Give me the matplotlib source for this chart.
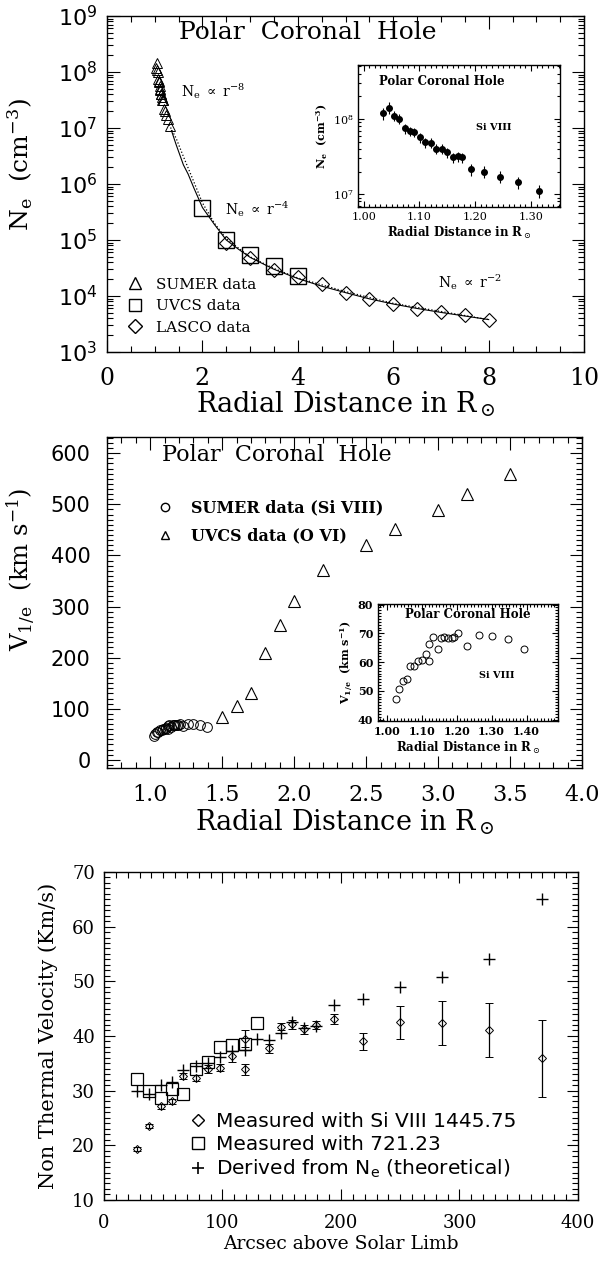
import matplotlib
matplotlib.use("Agg")
import matplotlib.pyplot as plt
from matplotlib.ticker import MultipleLocator, LogLocator, NullFormatter, FormatStrFormatter
from matplotlib.lines import Line2D

plt.rcParams['mathtext.fontset'] = 'dejavuserif'
SERIF = ['DejaVu Serif']
SANS = ['DejaVu Sans']

# ---- panel 1: electron density ----
sumer_r = [1.034, 1.046, 1.054, 1.064, 1.074, 1.083, 1.091, 1.101, 1.110, 1.120, 1.130,
           1.140, 1.150, 1.160, 1.169, 1.177, 1.192, 1.215, 1.245, 1.277, 1.315]
sumer_ne = [1.19e8, 1.42e8, 1.10e8, 1.00e8, 7.5e7, 6.9e7, 6.7e7, 5.7e7, 4.9e7, 4.8e7, 4.0e7,
            4.0e7, 3.6e7, 3.1e7, 3.2e7, 3.1e7, 2.15e7, 2.0e7, 1.7e7, 1.45e7, 1.1e7]
sumer_err = [0.18, 0.18, 0.15, 0.15, 0.15, 0.15, 0.15, 0.15, 0.15, 0.15, 0.15,
             0.15, 0.15, 0.15, 0.15, 0.15, 0.18, 0.18, 0.18, 0.18, 0.2]
uvcs_r = [2.0, 2.5, 3.0, 3.5, 4.0]
uvcs_ne = [3.8e5, 1.0e5, 5.5e4, 3.4e4, 2.3e4]
lasco_r = [2.5, 3.0, 3.5, 4.0, 4.5, 5.0, 5.5, 6.0, 6.5, 7.0, 7.5, 8.0]
lasco_ne = [9.0e4, 4.8e4, 2.9e4, 2.2e4, 1.66e4, 1.12e4, 8.7e3, 7.1e3, 5.8e3, 5.2e3, 4.6e3, 3.7e3]
fit_r = [1.35, 1.45, 1.6, 1.7, 1.82, 2.0, 2.25, 2.5, 2.75, 3.0, 3.5, 4.0, 4.5, 5.0,
         5.5, 6.0, 6.5, 7.0, 7.5, 8.0]
fit_ne = [9e6, 5e6, 2.2e6, 1.5e6, 8.5e5, 3.8e5, 1.9e5, 1.0e5, 6.9e4, 4.9e4, 3.0e4, 2.05e4,
          1.5e4, 1.15e4, 8.9e3, 7.2e3, 6.0e3, 5.1e3, 4.4e3, 3.8e3]
dot_r = [1.3, 1.45, 1.6, 1.8, 2.0, 2.25, 2.5, 3.0, 3.5, 4.0, 5.0, 6.0, 7.0, 8.0]
dot_ne = [1.15e7, 6.5e6, 3.1e6, 1.2e6, 4.6e5, 2.0e5, 1.05e5, 5.0e4, 3.1e4, 2.1e4, 1.2e4,
          7.4e3, 5.3e3, 3.8e3]

# ---- panel 2: outflow velocity ----
vsum_r = [1.026, 1.035, 1.046, 1.057, 1.067, 1.079, 1.090, 1.100, 1.111, 1.121, 1.121, 1.133,
          1.146, 1.155, 1.165, 1.174, 1.186, 1.193, 1.205, 1.229, 1.264, 1.300, 1.346, 1.393]
vsum_v = [47.3, 50.5, 53.5, 54.3, 58.7, 58.7, 60.4, 60.8, 62.7, 60.5, 66.4, 68.9,
          64.5, 68.3, 68.9, 68.3, 68.3, 68.9, 70.1, 65.7, 69.5, 69.2, 68.1, 64.5]
vuv_r = [1.5, 1.6, 1.7, 1.8, 1.9, 2.0, 2.2, 2.5, 2.7, 3.0, 3.2, 3.5]
vuv_v = [83, 105, 131, 209, 264, 310, 371, 420, 451, 489, 520, 559]

# ---- panel 3: non thermal velocity ----
si_x = [28, 38, 48, 57, 67, 78, 88, 98, 108, 119, 119, 139, 149, 159, 169, 179, 194,
        219, 250, 285, 325, 370]
si_v = [19.3, 23.5, 27.1, 28.0, 32.7, 32.3, 33.9, 34.2, 36.3, 33.9, 39.5, 37.7, 41.7, 42.1,
        41.2, 42.0, 43.1, 39.0, 42.5, 42.3, 41.1, 35.9]
si_err = [0.3, 0.4, 0.5, 0.5, 0.6, 0.5, 0.7, 0.7, 1.0, 1.0, 1.5, 0.8, 0.7, 0.8, 0.8, 0.7,
          1.0, 1.6, 3.0, 4.0, 5.0, 7.0]
o_x = [28, 38, 48, 57, 67, 78, 88, 98, 108, 119, 129]
o_v = [32.1, 29.9, 28.7, 30.3, 29.3, 33.9, 35.2, 37.9, 38.4, 38.5, 42.3]
th_x = [28, 38, 48, 57, 67, 78, 88, 98, 108, 119, 129, 139, 149, 159, 169, 179, 194,
        219, 250, 285, 325, 370]
th_v = [29.9, 29.3, 31.1, 31.5, 33.8, 34.5, 35.0, 36.2, 37.2, 37.5, 39.4, 39.2, 40.5, 42.5,
        41.5, 41.9, 45.7, 46.7, 48.9, 50.7, 54.0, 65.0]


def style(ax, major=8, minor=4):
    ax.tick_params(which='both', direction='in', top=True, right=True, width=0.8)
    ax.tick_params(which='major', length=major)
    ax.tick_params(which='minor', length=minor)
    for s in ax.spines.values():
        s.set_linewidth(1.0)


def fonts(labels, family, size, weight='normal'):
    for t in labels:
        t.set_family(family)
        t.set_fontsize(size)
        t.set_fontweight(weight)


fig = plt.figure(figsize=(5.98, 12.65), dpi=100)

# ================= top panel =================
ax1 = fig.add_axes([0.179, 0.7217, 0.7977, 0.2657])
ax1.set_yscale('log')
ax1.set_xlim(0, 10)
ax1.set_ylim(1e3, 1e9)
ax1.plot(fit_r, fit_ne, '-', color='k', lw=0.8)
ax1.plot(dot_r, dot_ne, ':', color='k', lw=0.9)
ax1.plot(sumer_r, sumer_ne, '^', ms=6.5, mfc='none', mec='k', mew=0.7, ls='none')
ax1.plot(uvcs_r, uvcs_ne, 's', ms=11, mfc='none', mec='k', mew=1.0, ls='none')
ax1.plot(lasco_r, lasco_ne, 'D', ms=7.5, mfc='none', mec='k', mew=0.8, ls='none')
ax1.xaxis.set_major_locator(MultipleLocator(2))
ax1.xaxis.set_minor_locator(MultipleLocator(0.5))
ax1.yaxis.set_major_locator(LogLocator(base=10, numticks=10))
ax1.yaxis.set_minor_locator(LogLocator(base=10, subs=range(2, 10), numticks=20))
ax1.yaxis.set_minor_formatter(NullFormatter())
style(ax1, 9, 4.5)
fonts(ax1.get_xticklabels(), SERIF, 17)
fonts(ax1.get_yticklabels(), SANS, 16)
ax1.tick_params(axis='x', pad=10.5)
ax1.tick_params(axis='y', pad=7)
ax1.set_xlabel(r'Radial Distance in R$_\odot$', family=SERIF, fontsize=19.5, labelpad=0)
ax1.set_ylabel(r'N$_{\mathdefault{e}}$  (cm$^{\mathdefault{-3}}$)', family=SERIF, fontsize=18)
ax1.yaxis.set_label_coords(-0.152, 0.557)
ax1.text(4.2, 10**8.7, 'Polar  Coronal  Hole', family=SERIF, fontsize=18, ha='center', va='center')
ax1.text(1.56, 10**7.66, r'N$_{\mathdefault{e}}$ $\propto$ r$^{\mathdefault{-8}}$', family=SERIF, fontsize=10, va='center')
ax1.text(2.47, 10**5.55, r'N$_{\mathdefault{e}}$ $\propto$ r$^{\mathdefault{-4}}$', family=SERIF, fontsize=10, va='center')
ax1.text(6.94, 10**4.24, r'N$_{\mathdefault{e}}$ $\propto$ r$^{\mathdefault{-2}}$', family=SERIF, fontsize=10, va='center')
h1 = [Line2D([], [], marker='^', ms=8, mfc='none', mec='k', ls='none'),
      Line2D([], [], marker='s', ms=9, mfc='none', mec='k', ls='none'),
      Line2D([], [], marker='D', ms=7, mfc='none', mec='k', ls='none')]
ax1.legend(h1, ['SUMER data', 'UVCS data', 'LASCO data'], loc='lower left',
           bbox_to_anchor=(0.0, 0.015), frameon=False, prop={'family': SERIF, 'size': 11},
           handletextpad=0.4, labelspacing=0.5, borderaxespad=0.4)

# top inset
ai1 = fig.add_axes([0.5987, 0.8364, 0.3378, 0.1123])
ai1.set_yscale('log')
ai1.set_xlim(0.99, 1.352)
ai1.set_ylim(10**6.83, 10**8.72)
ne_lo = [v * e for v, e in zip(sumer_ne, sumer_err)]
ai1.errorbar(sumer_r, sumer_ne, yerr=[ne_lo, ne_lo], fmt='o', ms=4, color='k',
             elinewidth=0.8, capsize=0)
ai1.set_xticks([1.0, 1.1, 1.2, 1.3])
ai1.set_xticklabels(['1.00', '1.10', '1.20', '1.30'])
ai1.xaxis.set_minor_locator(MultipleLocator(0.01))
ai1.yaxis.set_major_locator(LogLocator(base=10, numticks=10))
ai1.yaxis.set_minor_locator(LogLocator(base=10, subs=range(2, 10), numticks=20))
ai1.yaxis.set_minor_formatter(NullFormatter())
style(ai1, 4, 2)
fonts(ai1.get_xticklabels() + ai1.get_yticklabels(), SERIF, 8)
ai1.set_xlabel(r'Radial Distance in R$_\odot$', family=SERIF, fontsize=8.5, fontweight='bold', labelpad=2)
ai1.set_ylabel(r'N$_{\mathdefault{e}}$  (cm$^{\mathdefault{-3}}$)', family=SERIF, fontsize=8, fontweight='bold', labelpad=2)
ai1.text(1.14, 10**8.5, 'Polar Coronal Hole', family=SERIF, fontsize=8.5, fontweight='bold', ha='center', va='center')
ai1.text(1.234, 10**7.886, 'Si VIII', family=SERIF, fontsize=7, fontweight='bold', ha='center', va='center')

# ================= middle panel =================
ax2 = fig.add_axes([0.179, 0.3929, 0.7943, 0.2617])
ax2.set_xlim(0.7, 4.0)
ax2.set_ylim(-16, 632)
ax2.plot(vsum_r, vsum_v, 'o', ms=7, mfc='none', mec='k', mew=0.7, ls='none')
ax2.plot(vuv_r, vuv_v, '^', ms=9, mfc='none', mec='k', mew=0.8, ls='none')
ax2.xaxis.set_major_locator(MultipleLocator(0.5))
ax2.xaxis.set_minor_locator(MultipleLocator(0.1))
ax2.yaxis.set_major_locator(MultipleLocator(100))
ax2.yaxis.set_minor_locator(MultipleLocator(10))
ax2.xaxis.set_major_formatter(FormatStrFormatter('%.1f'))
style(ax2, 9, 4.5)
fonts(ax2.get_xticklabels(), SERIF, 16)
fonts(ax2.get_yticklabels(), SANS, 15)
ax2.tick_params(axis='x', pad=11.5)
ax2.tick_params(axis='y', pad=12)
ax2.set_xlabel(r'Radial Distance in R$_\odot$', family=SERIF, fontsize=19.5, labelpad=1)
ax2.set_ylabel(r'V$_{\mathdefault{1/e}}$  (km s$^{\mathdefault{-1}}$)', family=SERIF, fontsize=17.5)
ax2.yaxis.set_label_coords(-0.148, 0.60)
ax2.text(1.08, 597, 'Polar  Coronal  Hole', family=SERIF, fontsize=16, va='center')
h2 = [Line2D([], [], marker='o', ms=6, mfc='none', mec='k', ls='none'),
      Line2D([], [], marker='^', ms=6, mfc='none', mec='k', ls='none')]
ax2.legend(h2, ['SUMER data (Si VIII)', 'UVCS data (O VI)'], loc='upper left',
           bbox_to_anchor=(0.075, 0.83), frameon=False,
           prop={'family': SERIF, 'size': 11.5, 'weight': 'bold'},
           handletextpad=0.6, labelspacing=0.7, borderaxespad=0)

# middle inset
ai2 = fig.add_axes([0.6321, 0.43, 0.301, 0.0925])
ai2.set_xlim(0.975, 1.49)
ai2.set_ylim(39.5, 80.2)
ai2.plot(vsum_r, vsum_v, 'o', ms=5, mfc='none', mec='k', mew=0.7, ls='none')
ai2.set_xticks([1.0, 1.1, 1.2, 1.3, 1.4])
ai2.set_xticklabels(['1.00', '1.10', '1.20', '1.30', '1.40'])
ai2.xaxis.set_minor_locator(MultipleLocator(0.01))
ai2.set_yticks([40, 50, 60, 70, 80])
ai2.yaxis.set_minor_locator(MultipleLocator(1))
style(ai2, 4, 2)
fonts(ai2.get_xticklabels() + ai2.get_yticklabels(), SERIF, 8, 'bold')
ai2.set_xlabel(r'Radial Distance in R$_\odot$', family=SERIF, fontsize=8.5, fontweight='bold', labelpad=2)
ai2.set_ylabel(r'V$_{\mathdefault{1/e}}$  (km s$^{\mathdefault{-1}}$)', family=SERIF, fontsize=8, fontweight='bold', labelpad=2)
ai2.text(1.232, 76.5, 'Polar Coronal Hole', family=SERIF, fontsize=8.5, fontweight='bold', ha='center', va='center')
ai2.text(1.316, 55.5, 'Si VIII', family=SERIF, fontsize=7, fontweight='bold', ha='center', va='center')

# ================= bottom panel =================
ax3 = fig.add_axes([0.1739, 0.0515, 0.7926, 0.2592])
ax3.set_xlim(0, 400)
ax3.set_ylim(10, 70)
ax3.errorbar(si_x, si_v, yerr=si_err, fmt='D', ms=4.5, mfc='none', mec='k', mew=0.7,
             ecolor='k', elinewidth=0.9, capsize=3, capthick=0.9)
ax3.plot(o_x, o_v, 's', ms=8, mfc='none', mec='k', mew=0.9, ls='none')
ax3.plot(th_x, th_v, '+', ms=8, color='k', mew=1.0, ls='none')
ax3.xaxis.set_major_locator(MultipleLocator(100))
ax3.xaxis.set_minor_locator(MultipleLocator(10))
ax3.yaxis.set_major_locator(MultipleLocator(10))
ax3.yaxis.set_minor_locator(MultipleLocator(1))
style(ax3, 8, 4)
fonts(ax3.get_xticklabels() + ax3.get_yticklabels(), SERIF, 13)
ax3.tick_params(axis='x', pad=10)
ax3.tick_params(axis='y', pad=6.5)
ax3.set_xlabel('Arcsec above Solar Limb', family=SERIF, fontsize=13.5, labelpad=2)
ax3.set_ylabel('Non Thermal Velocity (Km/s)', family=SERIF, fontsize=15)
ax3.yaxis.set_label_coords(-0.097, 0.5)
h3 = [Line2D([], [], marker='D', ms=6, mfc='none', mec='k', ls='none'),
      Line2D([], [], marker='s', ms=8, mfc='none', mec='k', ls='none'),
      Line2D([], [], marker='+', ms=9, color='k', mew=1.2, ls='none')]
ax3.legend(h3, ['Measured with Si VIII 1445.75', 'Measured with 721.23',
                r'Derived from N$_{\mathdefault{e}}$ (theoretical)'], loc='lower left',
           bbox_to_anchor=(0.16, 0.035), frameon=False, prop={'family': SANS, 'size': 14.5},
           handletextpad=0.4, labelspacing=0.2, borderaxespad=0, handlelength=1.0)

fig.savefig('out.png', dpi=100)
